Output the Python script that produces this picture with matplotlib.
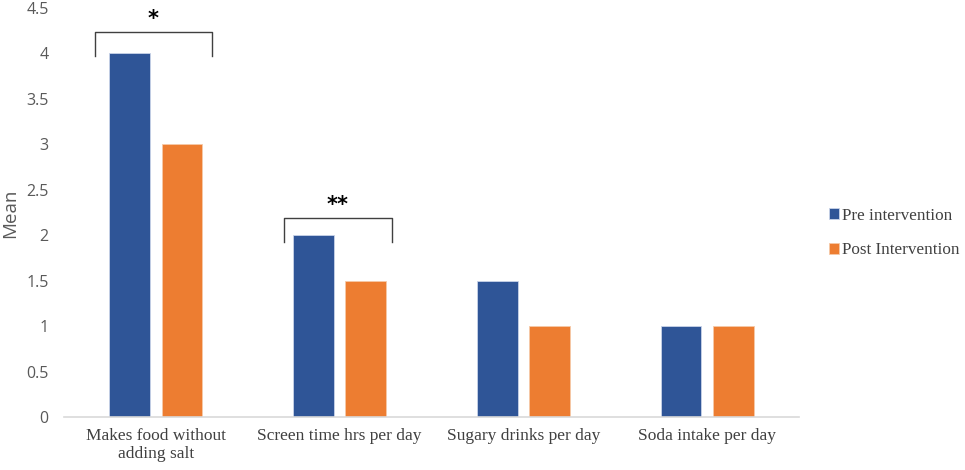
import numpy as np
import matplotlib.pyplot as plt

# --- data ---
categories = ["Makes food without\nadding salt", "Screen time hrs per day",
              "Sugary drinks per day", "Soda intake per day"]
pre_values = [4.0, 2.0, 1.5, 1.0]
post_values = [3.0, 1.5, 1.0, 1.0]
series_names = ["Pre intervention", "Post Intervention"]
y_ticks = [0, 0.5, 1, 1.5, 2, 2.5, 3, 3.5, 4, 4.5]
y_tick_labels = ["0", "0.5", "1", "1.5", "2", "2.5", "3", "3.5", "4", "4.5"]

# significance brackets: (category index, bracket top, star text)
sig_idx = [0, 1]
sig_top = [4.235, 2.19]
sig_text = ["*", "**"]

blue = "#2F5597"
orange = "#ED7D31"

fig = plt.figure(figsize=(9.65, 4.7), dpi=100)
ax = fig.add_axes([0.0663, 0.1128, 0.828 - 0.0663, 0.983 - 0.1128])

x = np.arange(len(categories))
w = 0.222
off = 0.142
ax.bar(x - off, pre_values, w, color=blue, edgecolor="#c9d3e8", linewidth=0.6,
       label=series_names[0])
ax.bar(x + off, post_values, w, color=orange, edgecolor="#f6c9a8", linewidth=0.6,
       label=series_names[1])

ax.set_xlim(-0.5, len(categories) - 0.5)
ax.set_ylim(0, 4.5)
ax.set_yticks(y_ticks)
ax.set_yticklabels(y_tick_labels, fontfamily="Open Sans", fontsize=11.5, color="#595959")
ax.set_xticks(x)
ax.set_xticklabels(categories, fontfamily="Liberation Serif", fontsize=12.5,
                   color="#404040", linespacing=1.15)
ax.tick_params(axis="both", length=0)
ax.tick_params(axis="x", pad=8)
ax.tick_params(axis="y", pad=11)
for s in ["top", "right", "left"]:
    ax.spines[s].set_visible(False)
ax.spines["bottom"].set_color("#d9d9d9")
ax.spines["bottom"].set_linewidth(1.2)

fig.text(10 / 965, 1 - 213 / 470, "Mean", rotation=90, ha="center", va="center",
         fontfamily="Open Sans", fontsize=13.5, color="#595959")

# brackets
for i, top, txt in zip(sig_idx, sig_top, sig_text):
    left = x[i] - off - w / 2 - 0.08
    right = x[i] + off + w / 2 + 0.05
    if i == 1:
        left = x[i] - off - w / 2 - 0.05
        right = x[i] + off + w / 2 + 0.03
    leg = top - 0.26
    ax.plot([left, left, right, right], [leg, top, top, leg],
            color="#404040", lw=1.0, clip_on=False)
    ax.text((left + right) / 2, top + 0.03, txt, ha="center", va="bottom",
            fontsize=15, color="black", fontweight="bold")

ax.legend(loc="center left", bbox_to_anchor=(1.02, 0.45), frameon=False,
          prop={"family": "Liberation Serif", "size": 12.3},
          handlelength=0.6, handleheight=0.6, handletextpad=0.15, labelspacing=1.1,
          labelcolor="#404040")

fig.savefig("out.png", dpi=100)
